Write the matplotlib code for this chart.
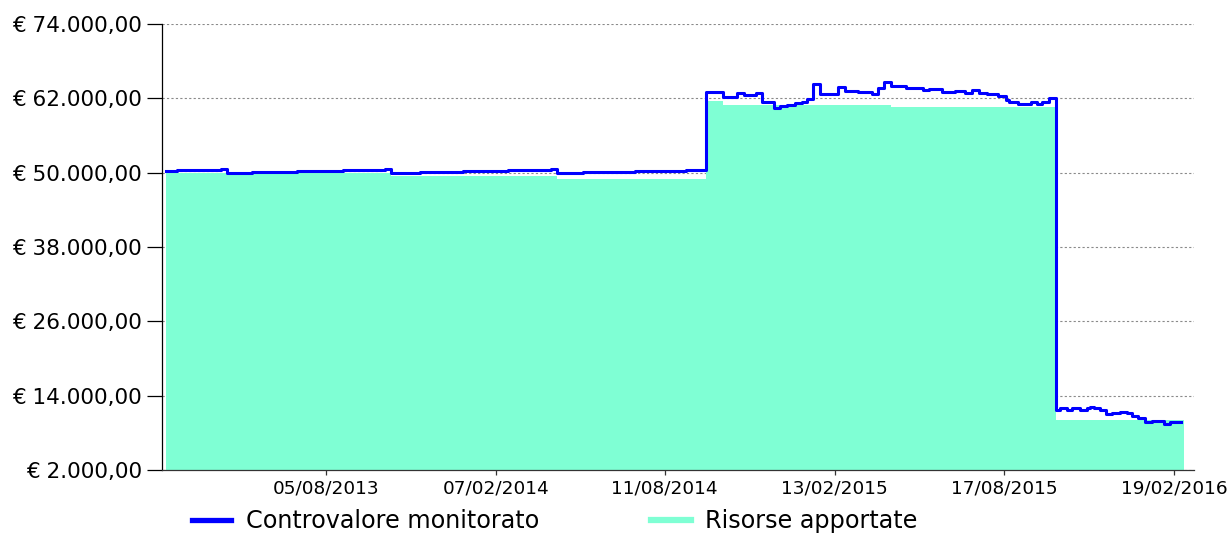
import matplotlib
matplotlib.use("Agg")
import matplotlib.pyplot as plt
from matplotlib.lines import Line2D
import pandas as pd

# ---- data ----
cv_dates = ["2013-02-11", "2013-02-23", "2013-04-13", "2013-04-19", "2013-05-16",
            "2013-07-05", "2013-08-24", "2013-10-09", "2013-10-15", "2013-11-16",
            "2014-01-02", "2014-02-20", "2014-04-09", "2014-04-15", "2014-05-14",
            "2014-07-09", "2014-09-03", "2014-09-25", "2014-10-14", "2014-10-29",
            "2014-11-06", "2014-11-19", "2014-11-25", "2014-12-09", "2014-12-15",
            "2014-12-23", "2014-12-31", "2015-01-08", "2015-01-14", "2015-01-20",
            "2015-01-28", "2015-02-17", "2015-02-24", "2015-03-10", "2015-03-26",
            "2015-04-01", "2015-04-08", "2015-04-16", "2015-05-02", "2015-05-20",
            "2015-05-27", "2015-06-10", "2015-06-25", "2015-07-06", "2015-07-13",
            "2015-07-21", "2015-07-29", "2015-08-11", "2015-08-19", "2015-08-23",
            "2015-09-01", "2015-09-16", "2015-09-22", "2015-09-28", "2015-10-05",
            "2015-10-13", "2015-10-17", "2015-10-25", "2015-10-30", "2015-11-08",
            "2015-11-16", "2015-11-19", "2015-11-24", "2015-11-30", "2015-12-07",
            "2015-12-13", "2015-12-22", "2015-12-30", "2016-01-04", "2016-01-11",
            "2016-01-18", "2016-01-26", "2016-02-08", "2016-02-15", "2016-02-20",
            "2016-02-27"]
cv_values = [50230, 50390, 50600, 49950, 50100,
             50270, 50480, 50650, 49950, 50100,
             50270, 50480, 50650, 49950, 50150,
             50270, 50480, 62950, 62150, 62800,
             62500, 62800, 61400, 60500, 60700,
             60920, 61180, 61450, 61950, 64300,
             62700, 63880, 63230, 63100, 62700,
             63610, 64600, 64040, 63610, 63340,
             63500, 62950, 63180, 62800, 63340,
             62800, 62700, 62370, 61700, 61450,
             61080, 61340, 61020, 61340, 62000,
             11690, 11960, 11690, 11960, 11690,
             11960, 12230, 11960, 11690, 11050,
             11260, 11420, 11150, 10720, 10350,
             9700, 9920, 9430, 9700, 9780,
             9780]

ra_dates = ["2013-02-11", "2013-10-15", "2014-04-15", "2014-09-25", "2014-10-14",
            "2015-04-16", "2015-10-13", "2016-03-01"]
ra_values = [50000, 49500, 48900, 61500, 61000, 60550, 10000, 10000]

y_ticks = [2000, 14000, 26000, 38000, 50000, 62000, 74000]
x_tick_dates = ["2013-08-05", "2014-02-07", "2014-08-11", "2015-02-13", "2015-08-17", "2016-02-19"]
x_tick_labels = ["05/08/2013", "07/02/2014", "11/08/2014", "13/02/2015", "17/08/2015", "19/02/2016"]
series_names = ["Controvalore monitorato", "Risorse apportate"]

# ---- plot ----
plt.rcParams['font.family'] = ['DejaVu Sans']
fig = plt.figure(figsize=(12.27, 5.33), dpi=100)
ax = fig.add_axes([162/1227, 1-470/533, (1194-162)/1227, (470-24)/533])

cv_x = pd.to_datetime(cv_dates)
ra_x = pd.to_datetime(ra_dates)

ax.fill_between(ra_x, ra_values, y_ticks[0], step='post', color='#7FFFD4', lw=0, zorder=2)
ax.plot(cv_x, cv_values, drawstyle='steps-post', color='#0000FF', lw=2.2, zorder=3)

ax.set_ylim(y_ticks[0], y_ticks[-1])
ax.set_xlim(pd.Timestamp("2013-02-07"), pd.Timestamp("2016-03-12"))

ax.set_yticks(y_ticks)
ax.set_yticklabels(["€ " + f"{v:,.2f}".replace(",", "X").replace(".", ",").replace("X", ".") for v in y_ticks])
ax.set_xticks(pd.to_datetime(x_tick_dates))
ax.set_xticklabels(x_tick_labels)

ax.grid(axis='y', color='#8a8a8a', linestyle=(0, (2, 2)), lw=0.8, zorder=1)
ax.set_axisbelow(True)
for s in ['top', 'right']:
    ax.spines[s].set_visible(False)
ax.spines['left'].set_color('black')
ax.spines['bottom'].set_color('#333333')
ax.spines['left'].set_linewidth(0.9)
ax.spines['bottom'].set_linewidth(0.9)

ax.tick_params(axis='y', length=11, width=0.9, pad=3.5, labelsize=15.5, color='black')
ax.tick_params(axis='x', length=3.6, width=0.9, pad=3.5, labelsize=13.3, color='#333333')

handles = [Line2D([], [], color='#0000FF', lw=3.8),
           Line2D([], [], color='#7FFFD4', lw=4.5)]
fig.legend(handles, series_names, loc='center left', bbox_to_anchor=(192/1227, 0.0225),
           ncol=2, frameon=False, fontsize=17.2, handlelength=1.65, handletextpad=0.6,
           columnspacing=4.7, borderpad=0, borderaxespad=0)

fig.savefig("out.png", dpi=100)
